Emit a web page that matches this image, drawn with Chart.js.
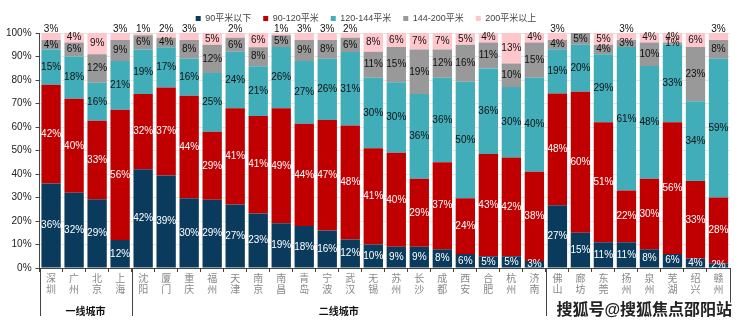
<!DOCTYPE html>
<html>
<head>
<meta charset="utf-8">
<script src="https://cdn.jsdelivr.net/npm/chart.js@4"></script>
<style>
  html, body { margin: 0; padding: 0; background: #fff; }
  #wrap { width: 740px; height: 327px; position: relative; }
</style>
</head>
<body>
<div id="wrap"><canvas id="chart"></canvas></div>
<script>
const cities = ['深圳','广州','北京','上海','沈阳','厦门','重庆','福州','天津','南京','南昌','青岛','宁波','武汉','无锡','苏州','长沙','成都','西安','合肥','杭州','济南','佛山','廊坊','东莞','扬州','泉州','芜湖','绍兴','赣州'];
const seriesNames = ['90平米以下','90-120平米','120-144平米','144-200平米','200平米以上'];
const under90  = [36,32,29,12,42,39,30,29,27,23,19,18,16,12,10,9,9,8,6,5,5,3,27,15,11,11,8,6,4,2];
const s90_120  = [42,40,33,56,32,37,44,29,41,41,49,44,47,48,41,40,29,37,24,43,42,38,48,60,51,22,30,56,33,28];
const s120_144 = [15,18,16,21,19,17,16,25,24,21,26,27,26,31,30,30,36,36,50,36,30,40,19,20,29,61,48,33,34,59];
const s144_200 = [4,6,12,9,6,4,8,12,6,8,5,9,8,6,11,15,19,12,16,11,10,15,4,5,4,3,10,1,23,8];
const over200  = [3,4,9,3,1,2,3,5,2,6,1,3,3,2,8,6,7,7,5,4,13,4,3,0,5,3,4,4,6,3];
const groups = [
  {name: '一线城市', from: 0, to: 3},
  {name: '二线城市', from: 4, to: 21},
  {name: '', from: 22, to: 29}
];
const colors = ['#0b3b5c','#c00000','#40adb8','#999999','#ffc7cb'];

const raw = [under90, s90_120, s120_144, s144_200, over200];
const totals = cities.map((c, i) => raw.reduce((s, arr) => s + arr[i], 0));
const FONT = '"Liberation Sans", "Noto Sans CJK SC", sans-serif';

// labels inside the segments
const segLabels = {
  id: 'segLabels',
  afterDatasetsDraw(chart) {
    const ctx = chart.ctx;
    ctx.save();
    ctx.font = '10px ' + FONT;
    ctx.textAlign = 'center';
    ctx.textBaseline = 'middle';
    chart.data.datasets.forEach((ds, di) => {
      chart.getDatasetMeta(di).data.forEach((bar, i) => {
        const v = raw[di][i];
        if (!v) return;
        let y = (bar.y + bar.base) / 2;
        if (di === 4 && v <= 3) y = bar.y - 4;
        ctx.fillStyle = di < 2 ? '#ffffff' : '#111111';
        ctx.fillText(v + '%', bar.x, y);
      });
    });
    ctx.restore();
  }
};

// group brackets under the x axis + watermark
const groupBrackets = {
  id: 'groupBrackets',
  afterDraw(chart) {
    const ctx = chart.ctx, xs = chart.scales.x, area = chart.chartArea;
    const step = xs.getPixelForValue(1) - xs.getPixelForValue(0);
    const lineBottom = 316;
    ctx.save();
    ctx.strokeStyle = '#444';
    ctx.lineWidth = 1;
    const edges = [area.left];
    groups.forEach(g => edges.push(xs.getPixelForValue(g.to) + step / 2));
    edges.forEach(x => {
      const px = Math.round(x) + 0.5;
      ctx.beginPath();
      ctx.moveTo(px, area.bottom);
      ctx.lineTo(px, lineBottom);
      ctx.stroke();
    });
    ctx.fillStyle = '#111';
    ctx.font = 'bold 10px ' + FONT;
    ctx.textAlign = 'center';
    ctx.textBaseline = 'middle';
    groups.forEach(g => {
      if (!g.name) return;
      const cx = (xs.getPixelForValue(g.from) + xs.getPixelForValue(g.to)) / 2;
      ctx.fillText(g.name, cx, 312);
    });
    ctx.font = 'bold 16px ' + FONT;
    ctx.textAlign = 'right';
    ctx.lineWidth = 3;
    ctx.strokeStyle = '#fff';
    ctx.strokeText('搜狐号@搜狐焦点邵阳站', 732, 311);
    ctx.fillStyle = '#222';
    ctx.fillText('搜狐号@搜狐焦点邵阳站', 732, 311);
    ctx.restore();
  }
};

new Chart(document.getElementById('chart'), {
  type: 'bar',
  data: {
    labels: cities.map(c => c.split('')),
    datasets: raw.map((arr, di) => ({
      label: seriesNames[di],
      data: arr.map((v, i) => v / totals[i] * 100),
      backgroundColor: colors[di],
      borderWidth: 0,
      barPercentage: 0.84,
      categoryPercentage: 1
    }))
  },
  options: {
    responsive: true,
    maintainAspectRatio: false,
    animation: false,
    layout: { padding: { left: 2, right: 10, top: 2, bottom: 30 } },
    plugins: {
      legend: {
        position: 'top',
        labels: {
          boxWidth: 5, boxHeight: 5, padding: 12,
          color: '#444',
          font: { size: 9, family: FONT }
        }
      },
      tooltip: { enabled: false }
    },
    scales: {
      x: {
        stacked: true,
        grid: { display: true, drawOnChartArea: false, drawTicks: true, tickLength: 4, color: '#444', offset: true },
        border: { display: true, color: '#444' },
        ticks: { maxRotation: 0, autoSkip: false, color: '#888', font: { size: 10, family: FONT, lineHeight: 1.05 }, padding: 2 }
      },
      y: {
        stacked: true,
        min: 0, max: 100,
        ticks: { stepSize: 10, color: '#222', font: { size: 10, family: FONT }, callback: v => v + '%', padding: 4 },
        grid: { color: '#e6e6e6', tickLength: 4, tickColor: '#444' },
        border: { display: true, color: '#444' }
      }
    }
  },
  plugins: [segLabels, groupBrackets]
});
</script>
</body>
</html>
